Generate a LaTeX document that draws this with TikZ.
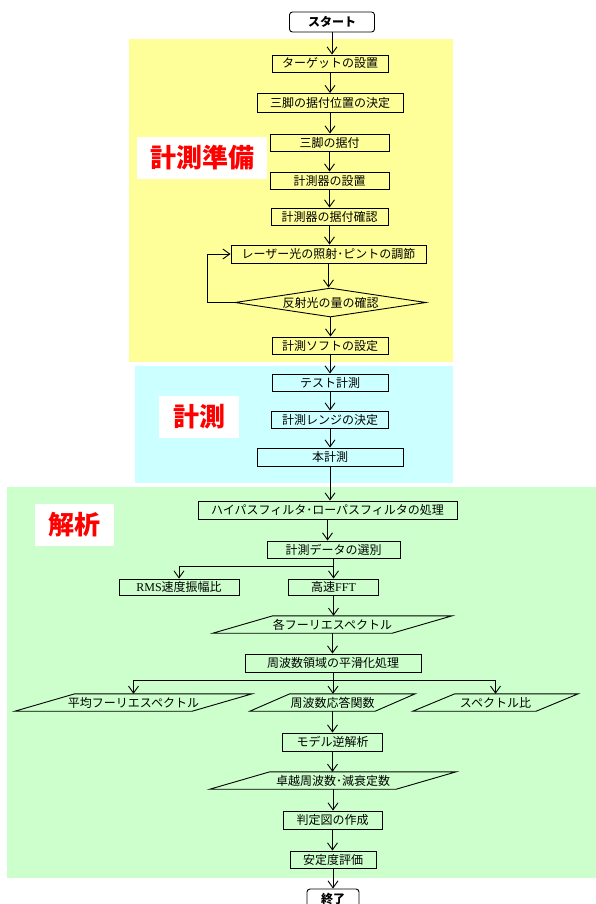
\documentclass[tikz,border=0pt]{standalone}
\usepackage{fontspec}
\setmainfont{Liberation Serif}
\newfontfamily\cjk{Noto Sans CJK JP}
\usetikzlibrary{arrows.meta,shapes.geometric}
\definecolor{bgyellow}{RGB}{255,255,153}
\definecolor{bgcyan}{RGB}{204,255,255}
\definecolor{bggreen}{RGB}{204,255,204}
\begin{document}
\begin{tikzpicture}[x=1pt,y=-1pt,
  every node/.style={font=\cjk\fontsize{12}{14}\selectfont, inner sep=0pt, align=center},
  box/.style={draw, line width=0.9pt, rectangle},
  term/.style={draw, line width=0.9pt, rounded corners=3pt, font=\cjk\bfseries\fontsize{12}{14}\selectfont},
  para/.style={rectangle, draw=none},
  arr/.style={line width=0.9pt, -{Straight Barb[length=7pt,width=10pt,line width=0.9pt]}},
  ln/.style={line width=0.9pt},
  tag/.style={fill=white, font=\cjk\bfseries\fontsize{26}{28}\selectfont, text=red},
]
\useasboundingbox (0,0) rectangle (596,904);
% backgrounds
\fill[bgyellow] (129,39) rectangle (453,362);
\fill[bgcyan] (135,366) rectangle (453,483);
\fill[bggreen] (7,487) rectangle (596,878);
% section tags
\node[tag, minimum width=130pt, minimum height=42pt] (t1) at (202,158) {計測準備};
\node[tag, minimum width=80pt, minimum height=42pt] (t2) at (199,417) {計測};
\node[tag, minimum width=79pt, minimum height=42pt] (t3) at (74.5,525) {解析};
% nodes
\node[term, minimum width=85pt, minimum height=20pt] (st) at (332,22) {スタート};
\node[box, minimum width=116pt, minimum height=17pt] (n1) at (330,63.5) {ターゲットの設置};
\node[box, minimum width=146pt, minimum height=19pt] (n2) at (330,103) {三脚の据付位置の決定};
\node[box, minimum width=119pt, minimum height=17pt] (n3) at (329.5,142.5) {三脚の据付};
\node[box, minimum width=119pt, minimum height=17pt] (n4) at (329.5,180.5) {計測器の設置};
\node[box, minimum width=117pt, minimum height=17pt] (n5) at (329.5,216.5) {計測器の据付確認};
\node[box, minimum width=195pt, minimum height=18pt] (n6) at (328.5,254) {レーザー光の照射･ピントの調節};
\node[diamond, draw, line width=0.9pt, shape aspect=6.6, minimum width=191pt, minimum height=29pt] (d) at (330.5,302.5) {反射光の量の確認};
\node[box, minimum width=116pt, minimum height=17pt] (n7) at (330,345.5) {計測ソフトの設定};
\node[box, minimum width=116pt, minimum height=17pt] (n8) at (330,382.5) {テスト計測};
\node[box, minimum width=117pt, minimum height=17pt] (n9) at (330,419.5) {計測レンジの決定};
\node[box, minimum width=146pt, minimum height=18pt] (n10) at (330,457) {本計測};
\node[box, minimum width=259pt, minimum height=18pt] (n11) at (327.5,510) {ハイパスフィルタ･ローパスフィルタの処理};
\node[box, minimum width=133pt, minimum height=17pt] (n12) at (333.5,549.5) {計測データの選別};
\node[box, minimum width=120pt, minimum height=16pt] (n13) at (179,587) {{\rmfamily RMS}速度振幅比};
\node[box, minimum width=90pt, minimum height=16pt] (n14) at (333.5,587) {高速{\rmfamily FFT}};
\node[para, minimum width=239pt, minimum height=17pt] (p1) at (332.5,624.5) {各フーリエスペクトル};
\node[box, minimum width=176pt, minimum height=18pt] (n15) at (333,663) {周波数領域の平滑化処理};
\node[para, minimum width=237pt, minimum height=17pt] (p2) at (133.5,702.5) {平均フーリエスペクトル};
\node[para, minimum width=165pt, minimum height=17pt] (p3) at (332.5,702.5) {周波数応答関数};
\node[para, minimum width=165pt, minimum height=17pt] (p4) at (495.5,702.5) {スペクトル比};
\node[box, minimum width=100pt, minimum height=18pt] (n16) at (332.5,742) {モデル逆解析};
\node[para, minimum width=246pt, minimum height=17pt] (p5) at (333,780.5) {卓越周波数･減衰定数};
\node[box, minimum width=99pt, minimum height=18pt] (n17) at (332.5,820) {判定図の作成};
\node[box, minimum width=86pt, minimum height=17pt] (n18) at (333,859.5) {安定度評価};
\node[term, minimum width=52pt, minimum height=20pt] (en) at (333,899) {終了};
% parallelogram outlines
\draw[ln] (p1.south west) -- ([xshift=60pt]p1.north west) -- (p1.north east) -- ([xshift=-60pt]p1.south east) -- cycle;
\draw[ln] (p2.south west) -- ([xshift=60pt]p2.north west) -- (p2.north east) -- ([xshift=-60pt]p2.south east) -- cycle;
\draw[ln] (p3.south west) -- ([xshift=40pt]p3.north west) -- (p3.north east) -- ([xshift=-40pt]p3.south east) -- cycle;
\draw[ln] (p4.south west) -- ([xshift=42pt]p4.north west) -- (p4.north east) -- ([xshift=-42pt]p4.south east) -- cycle;
\draw[ln] (p5.south west) -- ([xshift=60pt]p5.north west) -- (p5.north east) -- ([xshift=-60pt]p5.south east) -- cycle;
% connectors
\foreach \a/\b in {st/n1,n1/n2,n2/n3,n3/n4,n4/n5,n5/n6,n6/d,d/n7,n7/n8,n8/n9,n9/n10,n10/n11,n11/n12,n12/n14,n14/p1,p1/n15,n15/p3,p3/n16,n16/p5,p5/n17,n17/n18,n18/en}
  \draw[arr] (\a.south) -- (\a.south |- \b.north);
\coordinate (lp) at (207,302.5);
\draw[arr] (d.west) -- (lp) |- (n6.west);
\coordinate (j1) at (333.5,566);
\draw[arr] (j1) -| (n13.north);
\coordinate (j2) at (333,680);
\draw[ln] (j2) -- (p4.north |- j2);
\draw[arr] (j2) -| (p2.north);
\draw[arr] (j2) -| (p4.north);
\end{tikzpicture}
\end{document}
